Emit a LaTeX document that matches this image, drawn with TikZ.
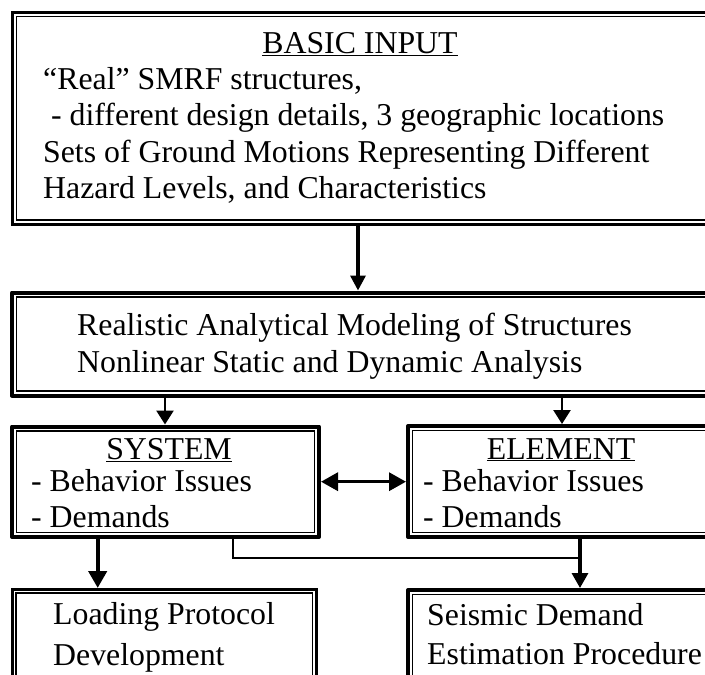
\documentclass[tikz,border=0pt]{standalone}
\usepackage{fontspec}
\setmainfont{Liberation Serif}
\usetikzlibrary{arrows.meta}
\tikzset{
  thinbox/.style={draw=black, line width=3pt, rectangle, inner sep=0pt, anchor=north west},
  thickbox/.style={draw=black, line width=4pt, rectangle, inner sep=0pt, anchor=north west, line join=round},
  innerline/.style={draw=black, line width=1.7pt},
  txt/.style={anchor=base west, inner sep=0pt, font=\fontsize{31.8}{36}\selectfont},
  headtxt/.style={txt, anchor=base, text depth=0pt},
  arrA/.style={line width=3.3pt, -{Triangle[width=15pt,length=15pt]}},
  arrB/.style={line width=2.5pt, -{Triangle[width=17pt,length=14pt]}},
  arrD/.style={line width=3.3pt, {Triangle[width=18pt,length=17pt]}-{Triangle[width=18pt,length=17pt]}},
  arrE/.style={line width=4.3pt, -{Triangle[width=18pt,length=17pt]}},
  arrF/.style={line width=3.3pt, -{Triangle[width=16pt,length=15pt]}},
  conn/.style={line width=2pt}
}
\begin{document}
\begin{tikzpicture}[x=1pt,y=-1pt]
\useasboundingbox (0,0) rectangle (705,675);
\clip (0,0) rectangle (705,675);
\fill[white] (0,0) rectangle (705,675);

% boxes
\node[thinbox, minimum width=711pt, minimum height=211.5pt] (A) at (11,11) {};
\draw[innerline] ([shift={(5.5,5.5)}]A.north west) rectangle ([shift={(-5.5,-5.5)}]A.south east);

\node[thickbox, minimum width=712pt, minimum height=103pt] (B) at (10,290.5) {};
\draw[innerline] ([shift={(6.5,6.5)}]B.north west) rectangle ([shift={(-6.5,-6.5)}]B.south east);

\node[thickbox, minimum width=307pt, minimum height=110.5pt] (C) at (10,424.5) {};
\draw[innerline] ([shift={(6.5,6.5)}]C.north west) rectangle ([shift={(-6.5,-6.5)}]C.south east);

\node[thickbox, minimum width=316pt, minimum height=111pt] (D) at (406,424) {};
\draw[innerline] ([shift={(6.5,6.5)}]D.north west) rectangle ([shift={(-6.5,-6.5)}]D.south east);

\node[thinbox, line width=2.5pt, minimum width=304pt, minimum height=112pt] (E) at (11,588) {};
\draw[innerline, line width=1.5pt] ([shift={(5,5)}]E.north west) rectangle ([shift={(-5,-5)}]E.south east);

\node[thickbox, minimum width=316pt, minimum height=112pt] (F) at (406,588) {};
\draw[innerline] ([shift={(6.5,6.5)}]F.north west) rectangle ([shift={(-6.5,-6.5)}]F.south east);

% texts
\node[headtxt] (a0) at (360,53) {\underline{BASIC INPUT}};
\node[txt] (a1) at (43,89) {“Real” SMRF structures,};
\node[txt] (a2) at (43,125) {\ - different design details, 3 geographic locations};
\node[txt] (a3) at (43,162) {Sets of Ground Motions Representing Different};
\node[txt] (a4) at (43,198) {Hazard Levels, and Characteristics};

\node[txt] (b1) at (77,335) {Realistic Analytical Modeling of Structures};
\node[txt] (b2) at (77,372) {Nonlinear Static and Dynamic Analysis};

\node[headtxt] (c0) at (169,459) {\underline{SYSTEM}};
\node[txt] (c1) at (31,491) {- Behavior Issues};
\node[txt] (c2) at (31,527) {- Demands};

\node[headtxt] (d0) at (561,459) {\underline{ELEMENT}};
\node[txt] (d1) at (423,491) {- Behavior Issues};
\node[txt] (d2) at (423,527) {- Demands};

\node[txt] (e1) at (53,624) {Loading Protocol};
\node[txt] (e2) at (53,665) {Development};

\node[txt] (f1) at (427,625) {Seismic Demand};
\node[txt] (f2) at (427,664) {Estimation Procedure};

% connector x positions
\coordinate (xAB) at (358,0);
\coordinate (xBC) at (165,0);
\coordinate (xBD) at (562,0);
\coordinate (xCE) at (97.7,0);
\coordinate (xDF) at (580,0);
\coordinate (xCon) at (232.7,0);
\coordinate (yCD) at (0,481.7);
\coordinate (jn) at (580,558);

\draw[arrA] (A.south -| xAB) -- (B.north -| xAB);
\draw[arrB] (B.south -| xBC) -- (C.north -| xBC);
\draw[arrB] (B.south -| xBD) -- (D.north -| xBD);
\draw[arrD] (C.east |- yCD) -- (D.west |- yCD);
\draw[arrE] (C.south -| xCE) -- (E.north -| xCE);
\draw[arrF] (D.south -| xDF) -- (F.north -| xDF);
\draw[conn] (C.south -| xCon) |- (jn);
\end{tikzpicture}
\end{document}
